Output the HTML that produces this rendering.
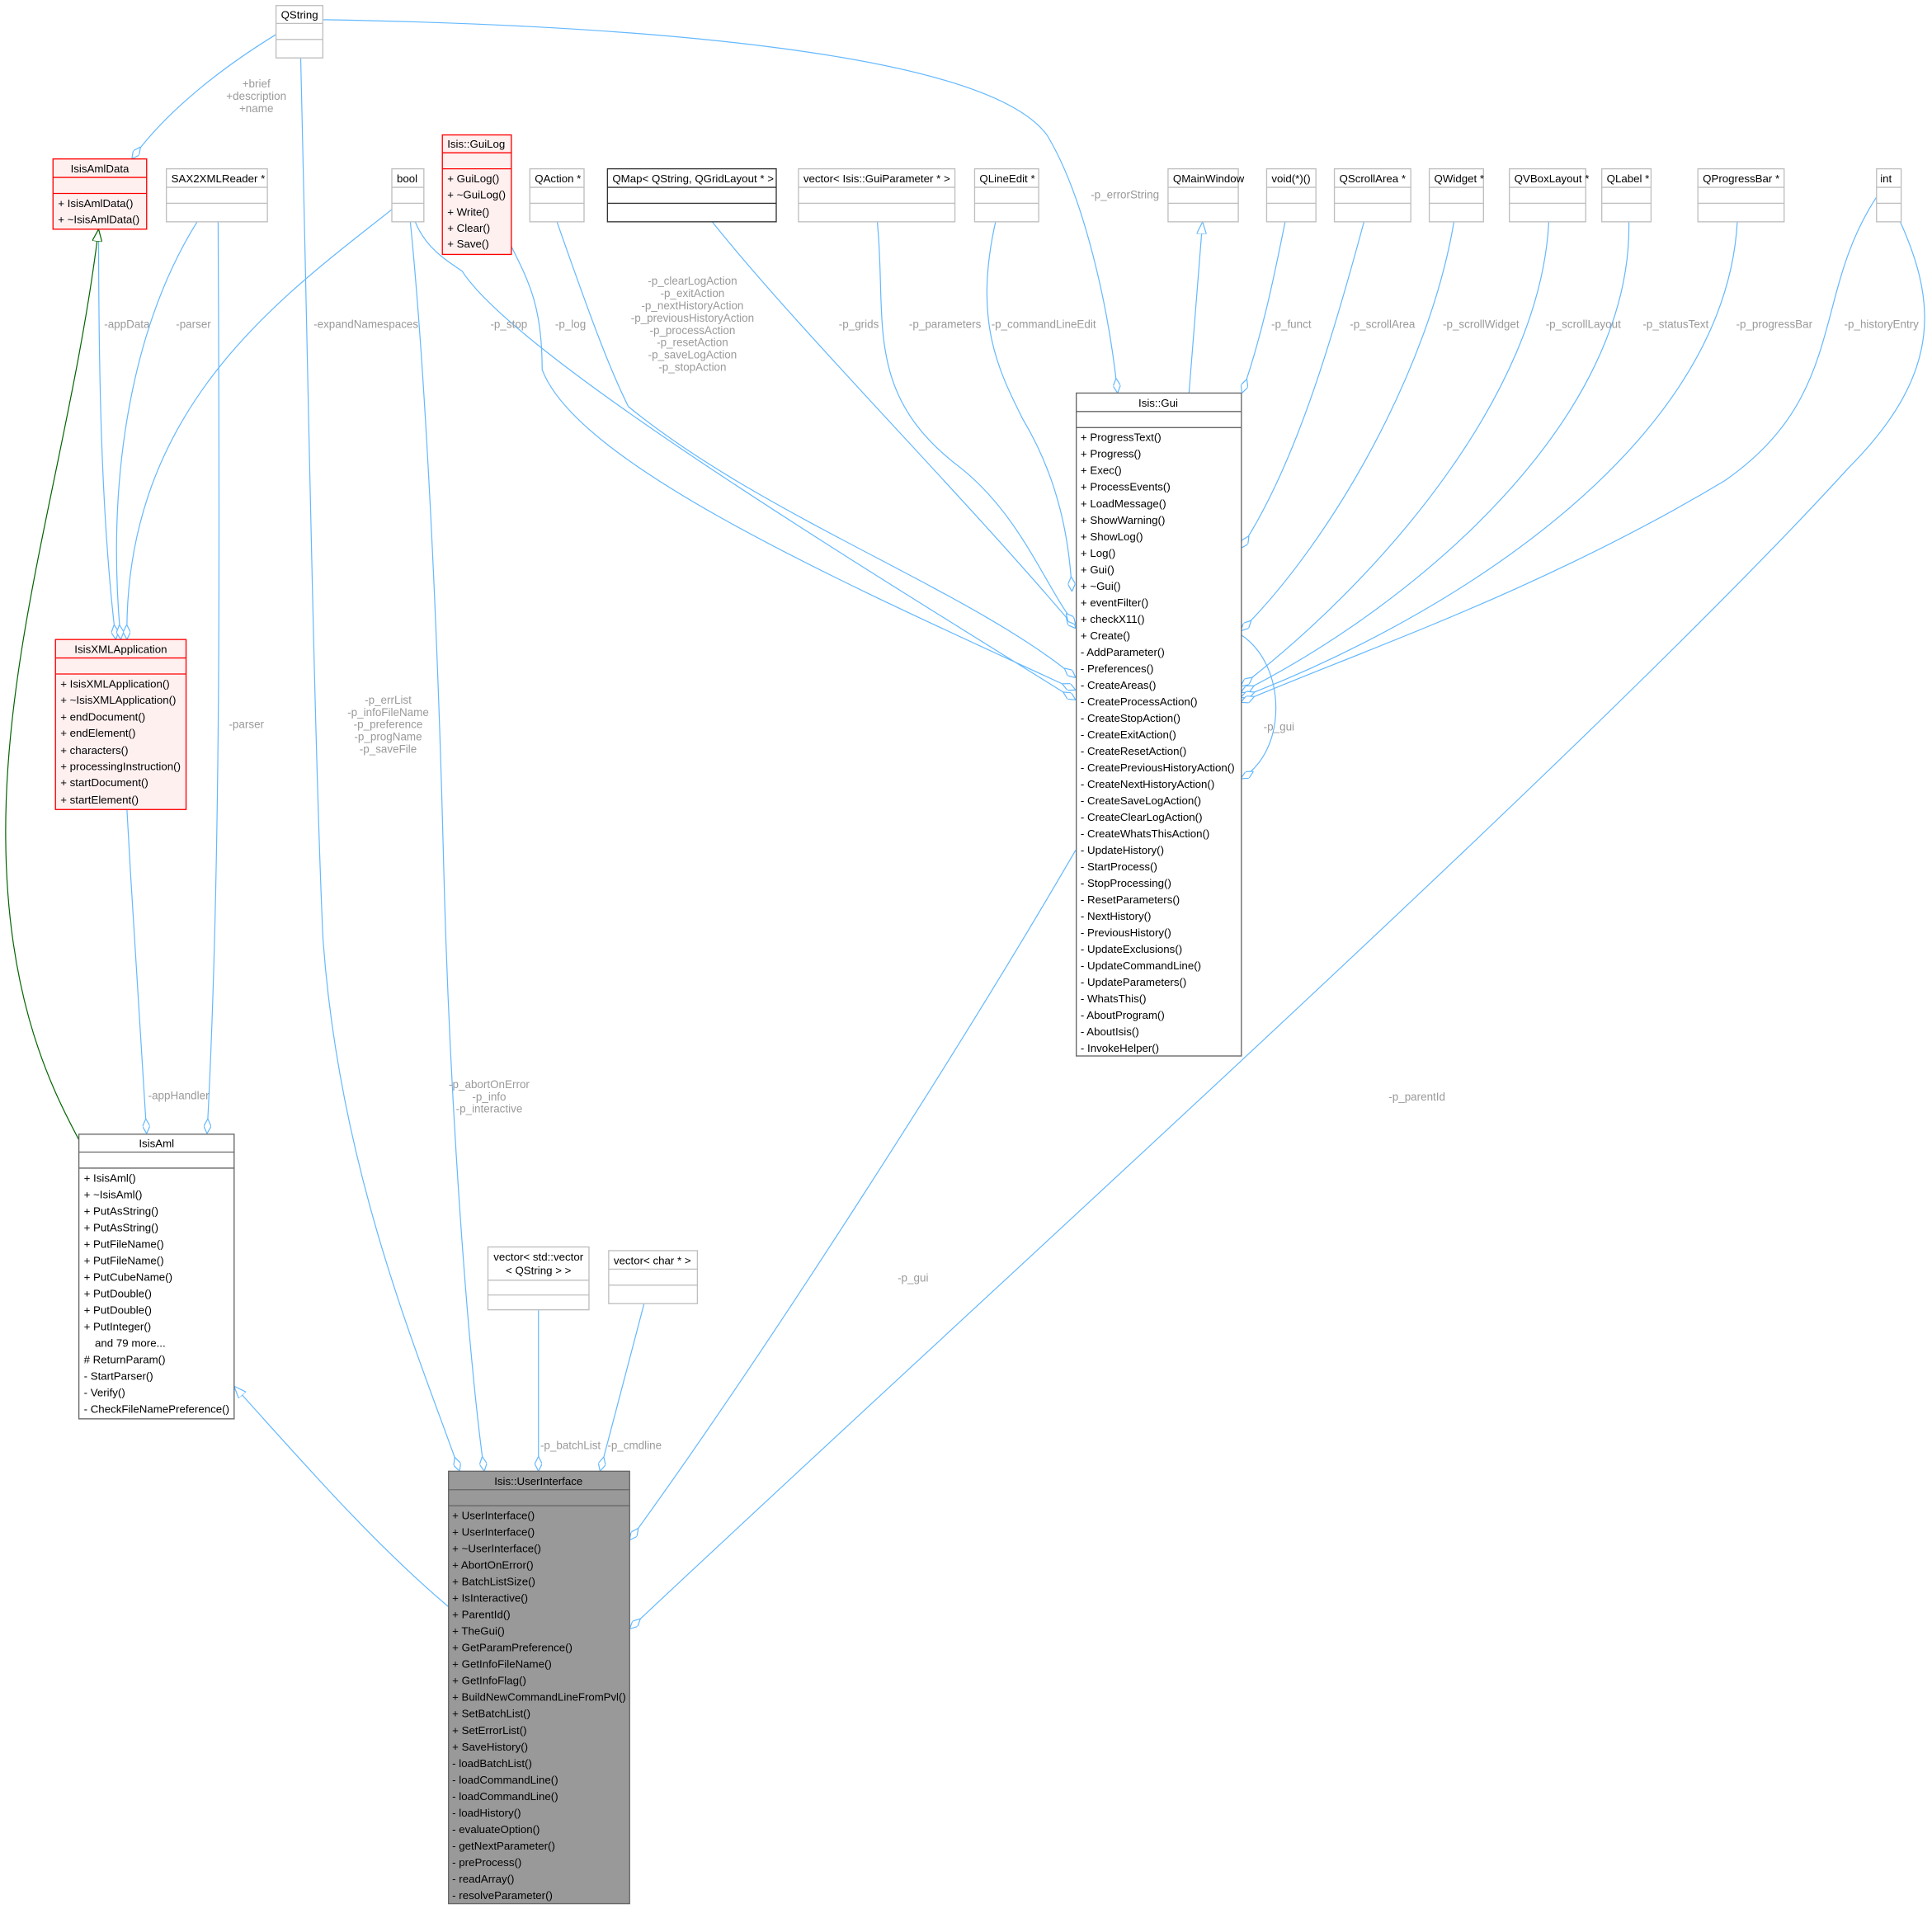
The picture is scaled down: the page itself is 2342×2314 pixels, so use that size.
<!DOCTYPE html>
<html><head><meta charset="utf-8"><style>
html,body{margin:0;padding:0;background:#fff;}
svg{display:block}
text{font-family:"Liberation Sans",sans-serif;font-size:8.9px;fill:#000}
.l{fill:#9a9a9a;font-size:9px;text-anchor:middle}
.e{fill:none;stroke:#63b8ff;stroke-width:0.8}
.b{fill:#fff;stroke:#bfbfbf;stroke-width:0.9}
.bl{fill:#fff;stroke:#666;stroke-width:0.9}
.r{fill:#fff0f0;stroke:#ff0000;stroke-width:0.9}
.c{text-anchor:middle}
</style></head><body>
<svg width="2342" height="2314" viewBox="0 0 1568 1549.3" xmlns="http://www.w3.org/2000/svg">
<defs>
<marker id="d" viewBox="0 0 12 6" refX="12" refY="3" markerWidth="12" markerHeight="6" markerUnits="userSpaceOnUse" orient="auto"><path d="M0,3 L6,0 L12,3 L6,6 Z" fill="#fff" stroke="#63b8ff" stroke-width="0.8"/></marker>
<marker id="t" viewBox="0 0 10 8" refX="10" refY="4" markerWidth="10" markerHeight="8" markerUnits="userSpaceOnUse" orient="auto-start-reverse"><path d="M0,0 L10,4 L0,8 Z" fill="#fff" stroke="#63b8ff" stroke-width="0.8"/></marker>
<marker id="g" viewBox="0 0 10 8" refX="10" refY="4" markerWidth="10" markerHeight="8" markerUnits="userSpaceOnUse" orient="auto-start-reverse"><path d="M0,0 L10,4 L0,8 Z" fill="#fff" stroke="#006400" stroke-width="0.8"/></marker>
</defs>

<!-- edges -->
<path class="e" marker-end="url(#d)" d="M224,28 C180,55 135,90 107,129"/>
<path class="e" marker-end="url(#d)" d="M262,16 C500,20 800,40 850,110 C880,160 900,250 907,319"/>
<path class="e" marker-end="url(#d)" d="M244,46 C250,300 255,600 262,760 C275,950 340,1100 373,1194"/>
<path class="e" marker-end="url(#d)" d="M333,180 C345,300 355,500 360,700 C365,900 380,1100 393,1194"/>
<path class="e" marker-end="url(#d)" d="M318,170 C230,240 100,330 103,519"/>
<path class="e" marker-end="url(#d)" d="M337,180 C345,200 360,210 375,220 C420,290 700,460 873,568"/>
<path class="e" marker-end="url(#d)" d="M415,200 C430,230 440,250 440,300 C470,380 700,480 873,560"/>
<path class="e" marker-end="url(#d)" d="M452,180 C480,260 495,300 510,330 C620,420 790,480 873,550"/>
<path class="e" marker-end="url(#d)" d="M578,180 C650,270 780,400 873,510"/>
<path class="e" marker-end="url(#d)" d="M712,180 C720,260 700,320 780,380 C830,420 850,480 873,507"/>
<path class="e" marker-end="url(#d)" d="M808,180 C790,260 810,300 830,340 C860,390 868,440 870,480"/>
<path class="e" marker-start="url(#t)" d="M976,180 L965,319"/>
<path class="e" marker-end="url(#d)" d="M1043,180 C1035,220 1025,270 1008,319"/>
<path class="e" marker-end="url(#d)" d="M1107,180 C1080,280 1050,380 1007,445"/>
<path class="e" marker-end="url(#d)" d="M1180,180 C1160,300 1080,440 1007,512"/>
<path class="e" marker-end="url(#d)" d="M1257,180 C1250,320 1120,470 1007,557"/>
<path class="e" marker-end="url(#d)" d="M1322,180 C1325,340 1150,490 1007,562"/>
<path class="e" marker-end="url(#d)" d="M1410,180 C1400,360 1180,500 1007,566"/>
<path class="e" marker-end="url(#d)" d="M1523,160 C1470,240 1500,320 1400,390 C1250,480 1100,530 1007,570"/>
<path class="e" marker-end="url(#d)" d="M1540,175 C1570,240 1580,300 1500,380 C1300,600 800,1050 511,1322"/>
<path class="e" marker-end="url(#d)" d="M1007,515 C1045,540 1045,610 1007,632"/>
<path class="e" marker-end="url(#d)" d="M873,690 C780,850 620,1100 511,1250"/>
<path class="e" marker-end="url(#d)" d="M80,186 C80,300 82,420 94,519"/>
<path class="e" marker-end="url(#d)" d="M160,180 C110,260 85,380 98,519"/>
<path class="e" marker-end="url(#d)" d="M177,180 C178,400 180,700 168,920"/>
<path class="e" marker-end="url(#d)" d="M103,657 C108,750 115,850 119,920"/>
<path fill="none" stroke="#006400" stroke-width="0.8" marker-start="url(#g)" d="M80,186 C60,350 10,500 5,650 C0,800 40,880 64,925"/>
<path class="e" marker-start="url(#t)" d="M190,1125 C240,1180 300,1250 364,1304"/>
<path class="e" marker-end="url(#d)" d="M437,1063 L437,1194"/>
<path class="e" marker-end="url(#d)" d="M523,1057 L487,1194"/>

<!-- edge labels -->
<text class="l" x="208" y="71">+brief</text><text class="l" x="208" y="81">+description</text><text class="l" x="208" y="91">+name</text>
<text class="l" x="913" y="161">-p_errorString</text>
<text class="l" x="297" y="266">-expandNamespaces</text>
<text class="l" x="103" y="266">-appData</text>
<text class="l" x="157" y="266">-parser</text>
<text class="l" x="200" y="591">-parser</text>
<text class="l" x="413" y="266">-p_stop</text>
<text class="l" x="463" y="266">-p_log</text>
<text class="l" x="562" y="231">-p_clearLogAction</text><text class="l" x="562" y="241">-p_exitAction</text><text class="l" x="562" y="251">-p_nextHistoryAction</text><text class="l" x="562" y="261">-p_previousHistoryAction</text><text class="l" x="562" y="271">-p_processAction</text><text class="l" x="562" y="281">-p_resetAction</text><text class="l" x="562" y="291">-p_saveLogAction</text><text class="l" x="562" y="301">-p_stopAction</text>
<text class="l" x="697" y="266">-p_grids</text>
<text class="l" x="767" y="266">-p_parameters</text>
<text class="l" x="847" y="266">-p_commandLineEdit</text>
<text class="l" x="1048" y="266">-p_funct</text>
<text class="l" x="1122" y="266">-p_scrollArea</text>
<text class="l" x="1202" y="266">-p_scrollWidget</text>
<text class="l" x="1285" y="266">-p_scrollLayout</text>
<text class="l" x="1360" y="266">-p_statusText</text>
<text class="l" x="1440" y="266">-p_progressBar</text>
<text class="l" x="1527" y="266">-p_historyEntry</text>
<text class="l" x="1038" y="593">-p_gui</text>
<text class="l" x="315" y="571">-p_errList</text><text class="l" x="315" y="581">-p_infoFileName</text><text class="l" x="315" y="591">-p_preference</text><text class="l" x="315" y="601">-p_progName</text><text class="l" x="315" y="611">-p_saveFile</text>
<text class="l" x="145" y="892">-appHandler</text>
<text class="l" x="397" y="883">-p_abortOnError</text><text class="l" x="397" y="893">-p_info</text><text class="l" x="397" y="903">-p_interactive</text>
<text class="l" x="1150" y="893">-p_parentId</text>
<text class="l" x="741" y="1040">-p_gui</text>
<text class="l" x="463" y="1176">-p_batchList</text>
<text class="l" x="515" y="1176">-p_cmdline</text>

<!-- simple boxes -->
<g>
<rect class="b" x="224" y="4.5" width="38" height="42.5"/><line class="b" x1="224" y1="19" x2="262" y2="19"/><line class="b" x1="224" y1="32" x2="262" y2="32"/><text x="228" y="15">QString</text>
<rect class="b" x="135" y="137" width="82" height="43"/><line class="b" x1="135" y1="152" x2="217" y2="152"/><line class="b" x1="135" y1="165" x2="217" y2="165"/><text x="139" y="148">SAX2XMLReader *</text>
<rect class="b" x="318" y="137" width="26" height="43"/><line class="b" x1="318" y1="152" x2="344" y2="152"/><line class="b" x1="318" y1="165" x2="344" y2="165"/><text x="322" y="148">bool</text>
<rect class="b" x="430" y="137" width="44" height="43"/><line class="b" x1="430" y1="152" x2="474" y2="152"/><line class="b" x1="430" y1="165" x2="474" y2="165"/><text x="434" y="148">QAction *</text>
<rect class="bl" x="493" y="137" width="137" height="43" style="stroke:#333"/><line x1="493" y1="152" x2="630" y2="152" stroke="#333" stroke-width="0.9"/><line x1="493" y1="165" x2="630" y2="165" stroke="#333" stroke-width="0.9"/><text x="497" y="148">QMap&lt; QString, QGridLayout * &gt;</text>
<rect class="b" x="648" y="137" width="127" height="43"/><line class="b" x1="648" y1="152" x2="775" y2="152"/><line class="b" x1="648" y1="165" x2="775" y2="165"/><text x="652" y="148">vector&lt; Isis::GuiParameter * &gt;</text>
<rect class="b" x="791" y="137" width="52" height="43"/><line class="b" x1="791" y1="152" x2="843" y2="152"/><line class="b" x1="791" y1="165" x2="843" y2="165"/><text x="795" y="148">QLineEdit *</text>
<rect class="b" x="948" y="137" width="57" height="43"/><line class="b" x1="948" y1="152" x2="1005" y2="152"/><line class="b" x1="948" y1="165" x2="1005" y2="165"/><text x="952" y="148">QMainWindow</text>
<rect class="b" x="1028" y="137" width="40" height="43"/><line class="b" x1="1028" y1="152" x2="1068" y2="152"/><line class="b" x1="1028" y1="165" x2="1068" y2="165"/><text x="1032" y="148">void(*)()</text>
<rect class="b" x="1083" y="137" width="62" height="43"/><line class="b" x1="1083" y1="152" x2="1145" y2="152"/><line class="b" x1="1083" y1="165" x2="1145" y2="165"/><text x="1087" y="148">QScrollArea *</text>
<rect class="b" x="1160" y="137" width="44" height="43"/><line class="b" x1="1160" y1="152" x2="1204" y2="152"/><line class="b" x1="1160" y1="165" x2="1204" y2="165"/><text x="1164" y="148">QWidget *</text>
<rect class="b" x="1225" y="137" width="62" height="43"/><line class="b" x1="1225" y1="152" x2="1287" y2="152"/><line class="b" x1="1225" y1="165" x2="1287" y2="165"/><text x="1229" y="148">QVBoxLayout *</text>
<rect class="b" x="1300" y="137" width="40" height="43"/><line class="b" x1="1300" y1="152" x2="1340" y2="152"/><line class="b" x1="1300" y1="165" x2="1340" y2="165"/><text x="1304" y="148">QLabel *</text>
<rect class="b" x="1378" y="137" width="70" height="43"/><line class="b" x1="1378" y1="152" x2="1448" y2="152"/><line class="b" x1="1378" y1="165" x2="1448" y2="165"/><text x="1382" y="148">QProgressBar *</text>
<rect class="b" x="1523" y="137" width="20" height="43"/><line class="b" x1="1523" y1="152" x2="1543" y2="152"/><line class="b" x1="1523" y1="165" x2="1543" y2="165"/><text x="1526" y="148">int</text>
<rect class="b" x="396" y="1012" width="82" height="51"/><line class="b" x1="396" y1="1039" x2="478" y2="1039"/><line class="b" x1="396" y1="1051" x2="478" y2="1051"/><text class="c" x="437" y="1023">vector&lt; std::vector</text><text class="c" x="437" y="1034">&lt; QString &gt; &gt;</text>
<rect class="b" x="494" y="1015" width="72" height="43"/><line class="b" x1="494" y1="1030" x2="566" y2="1030"/><line class="b" x1="494" y1="1043" x2="566" y2="1043"/><text x="498" y="1026">vector&lt; char * &gt;</text>
</g>

<!-- IsisAmlData -->
<rect class="r" x="43" y="129" width="76" height="57"/><line x1="43" y1="144" x2="119" y2="144" stroke="red" stroke-width="0.9"/><line x1="43" y1="157" x2="119" y2="157" stroke="red" stroke-width="0.9"/>
<text class="c" x="81" y="140">IsisAmlData</text>
<text x="47" y="168">+ IsisAmlData()</text><text x="47" y="181">+ ~IsisAmlData()</text>

<!-- GuiLog -->
<rect class="r" x="359" y="109.5" width="56" height="97"/><line x1="359" y1="124" x2="415" y2="124" stroke="red" stroke-width="0.9"/><line x1="359" y1="137" x2="415" y2="137" stroke="red" stroke-width="0.9"/>
<text x="363" y="120">Isis::GuiLog</text>
<text x="363" y="148">+ GuiLog()</text><text x="363" y="161">+ ~GuiLog()</text><text x="363" y="175">+ Write()</text><text x="363" y="188">+ Clear()</text><text x="363" y="201">+ Save()</text>

<!-- IsisXMLApplication -->
<rect class="r" x="45" y="519" width="106" height="138"/><line x1="45" y1="534" x2="151" y2="534" stroke="red" stroke-width="0.9"/><line x1="45" y1="547" x2="151" y2="547" stroke="red" stroke-width="0.9"/>
<text class="c" x="98" y="530">IsisXMLApplication</text>
<text x="49" y="558">+ IsisXMLApplication()</text><text x="49" y="571">+ ~IsisXMLApplication()</text><text x="49" y="585">+ endDocument()</text><text x="49" y="598">+ endElement()</text><text x="49" y="612">+ characters()</text><text x="49" y="625">+ processingInstruction()</text><text x="49" y="638">+ startDocument()</text><text x="49" y="652">+ startElement()</text>

<!-- Isis::Gui -->
<rect class="bl" x="873.5" y="319" width="134" height="538"/><line class="bl" x1="873.5" y1="334" x2="1007.5" y2="334"/><line class="bl" x1="873.5" y1="347" x2="1007.5" y2="347"/>
<text class="c" x="940" y="330">Isis::Gui</text>
<g>
<text x="877" y="358">+ ProgressText()</text>
<text x="877" y="371.4">+ Progress()</text>
<text x="877" y="384.8">+ Exec()</text>
<text x="877" y="398.2">+ ProcessEvents()</text>
<text x="877" y="411.6">+ LoadMessage()</text>
<text x="877" y="425">+ ShowWarning()</text>
<text x="877" y="438.4">+ ShowLog()</text>
<text x="877" y="451.8">+ Log()</text>
<text x="877" y="465.2">+ Gui()</text>
<text x="877" y="478.6">+ ~Gui()</text>
<text x="877" y="492">+ eventFilter()</text>
<text x="877" y="505.4">+ checkX11()</text>
<text x="877" y="518.8">+ Create()</text>
<text x="877" y="532.2">-  AddParameter()</text>
<text x="877" y="545.6">-  Preferences()</text>
<text x="877" y="559">-  CreateAreas()</text>
<text x="877" y="572.4">-  CreateProcessAction()</text>
<text x="877" y="585.8">-  CreateStopAction()</text>
<text x="877" y="599.2">-  CreateExitAction()</text>
<text x="877" y="612.6">-  CreateResetAction()</text>
<text x="877" y="626">-  CreatePreviousHistoryAction()</text>
<text x="877" y="639.4">-  CreateNextHistoryAction()</text>
<text x="877" y="652.8">-  CreateSaveLogAction()</text>
<text x="877" y="666.2">-  CreateClearLogAction()</text>
<text x="877" y="679.6">-  CreateWhatsThisAction()</text>
<text x="877" y="693">-  UpdateHistory()</text>
<text x="877" y="706.4">-  StartProcess()</text>
<text x="877" y="719.8">-  StopProcessing()</text>
<text x="877" y="733.2">-  ResetParameters()</text>
<text x="877" y="746.6">-  NextHistory()</text>
<text x="877" y="760">-  PreviousHistory()</text>
<text x="877" y="773.4">-  UpdateExclusions()</text>
<text x="877" y="786.8">-  UpdateCommandLine()</text>
<text x="877" y="800.2">-  UpdateParameters()</text>
<text x="877" y="813.6">-  WhatsThis()</text>
<text x="877" y="827">-  AboutProgram()</text>
<text x="877" y="840.4">-  AboutIsis()</text>
<text x="877" y="853.8">-  InvokeHelper()</text>
</g>

<!-- IsisAml -->
<rect class="bl" x="64" y="920.5" width="126" height="231"/><line class="bl" x1="64" y1="935" x2="190" y2="935"/><line class="bl" x1="64" y1="948" x2="190" y2="948"/>
<text class="c" x="127" y="931">IsisAml</text>
<g>
<text x="68" y="959">+ IsisAml()</text>
<text x="68" y="972.4">+ ~IsisAml()</text>
<text x="68" y="985.8">+ PutAsString()</text>
<text x="68" y="999.2">+ PutAsString()</text>
<text x="68" y="1012.6">+ PutFileName()</text>
<text x="68" y="1026">+ PutFileName()</text>
<text x="68" y="1039.4">+ PutCubeName()</text>
<text x="68" y="1052.8">+ PutDouble()</text>
<text x="68" y="1066.2">+ PutDouble()</text>
<text x="68" y="1079.6">+ PutInteger()</text>
<text x="77" y="1093">and 79 more...</text>
<text x="68" y="1106.4"># ReturnParam()</text>
<text x="68" y="1119.8">-  StartParser()</text>
<text x="68" y="1133.2">-  Verify()</text>
<text x="68" y="1146.6">-  CheckFileNamePreference()</text>
</g>

<!-- UserInterface -->
<rect x="364" y="1194" width="147" height="351" fill="#999" stroke="#666" stroke-width="0.9"/><line class="bl" x1="364" y1="1209" x2="511" y2="1209"/><line class="bl" x1="364" y1="1222" x2="511" y2="1222"/>
<text class="c" x="437" y="1205">Isis::UserInterface</text>
<g>
<text x="367" y="1233">+ UserInterface()</text>
<text x="367" y="1246.4">+ UserInterface()</text>
<text x="367" y="1259.8">+ ~UserInterface()</text>
<text x="367" y="1273.2">+ AbortOnError()</text>
<text x="367" y="1286.6">+ BatchListSize()</text>
<text x="367" y="1300">+ IsInteractive()</text>
<text x="367" y="1313.4">+ ParentId()</text>
<text x="367" y="1326.8">+ TheGui()</text>
<text x="367" y="1340.2">+ GetParamPreference()</text>
<text x="367" y="1353.6">+ GetInfoFileName()</text>
<text x="367" y="1367">+ GetInfoFlag()</text>
<text x="367" y="1380.4" textLength="141" lengthAdjust="spacingAndGlyphs">+ BuildNewCommandLineFromPvl()</text>
<text x="367" y="1393.8">+ SetBatchList()</text>
<text x="367" y="1407.2">+ SetErrorList()</text>
<text x="367" y="1420.6">+ SaveHistory()</text>
<text x="367" y="1434">-  loadBatchList()</text>
<text x="367" y="1447.4">-  loadCommandLine()</text>
<text x="367" y="1460.8">-  loadCommandLine()</text>
<text x="367" y="1474.2">-  loadHistory()</text>
<text x="367" y="1487.6">-  evaluateOption()</text>
<text x="367" y="1501">-  getNextParameter()</text>
<text x="367" y="1514.4">-  preProcess()</text>
<text x="367" y="1527.8">-  readArray()</text>
<text x="367" y="1541.2">-  resolveParameter()</text>
</g>
</svg>
</body></html>
